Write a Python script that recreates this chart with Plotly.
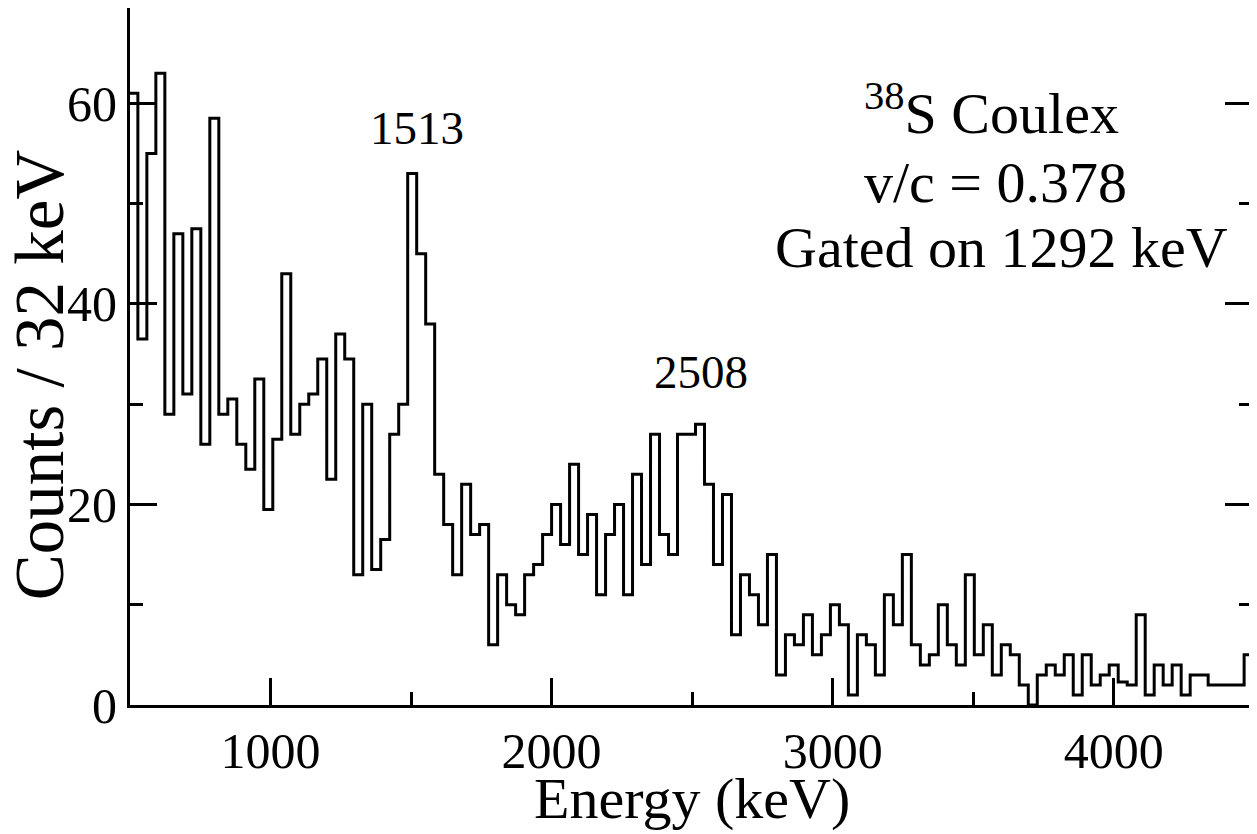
import plotly.graph_objects as go

# ---- data ----
bin_width = 32          # keV per bin
first_edge = 496        # keV, lower edge of first bin
counts = [
    61, 36.5, 55, 63, 29, 47, 31, 47.5, 26, 58.5,
    29, 30.5, 26, 23.5, 32.5, 19.5, 26.5, 43, 27, 30,
    31, 34.5, 22.5, 37, 34.5, 13, 30, 13.5, 16.5, 27,
    30, 53, 45, 38, 23, 18, 13, 22, 17, 18,
    6, 13, 10, 9, 13, 14, 17, 20, 16, 24,
    15, 19, 11, 17, 20, 11, 23, 14, 27, 17,
    15, 27, 27, 28, 22, 14, 21, 7, 13, 11,
    8, 15, 3, 7, 6, 9, 5, 7, 10, 8,
    1, 7, 6, 3, 11, 8, 15, 6, 4, 5,
    10, 6, 4, 13, 5, 8, 3, 6, 5, 2,
    0, 3, 4, 3, 5, 1, 5, 2, 3, 4,
    2.3, 2, 9, 1, 4, 2, 4, 1, 3, 3,
    2, 2, 2, 2, 5,
]
x_ticks = [1000, 2000, 3000, 4000]
y_ticks = [0, 20, 40, 60]
x_title = "Energy (keV)"
y_title = "Counts / 32 keV"
peak_labels = ["1513", "2508"]
peak_label_x = [1521, 2533]
peak_label_y = [57.5, 33.2]
info_lines = ["<sup>38</sup>S Coulex", "v/c = 0.378", "Gated on 1292 keV"]
info_x = [3565, 3580, 3600]
info_y = [59.4, 52.1, 45.6]

edges = [first_edge + bin_width * i for i in range(len(counts) + 1)]
xs = edges
ys = counts + [counts[-1]]

FONT = "Liberation Serif, Times New Roman, serif"

fig = go.Figure()
fig.add_trace(go.Scatter(
    x=xs, y=ys, mode="lines", line=dict(shape="hv", color="black", width=3),
    hoverinfo="skip", showlegend=False,
))

for t, x, y in zip(peak_labels, peak_label_x, peak_label_y):
    fig.add_annotation(x=x, y=y, text=t, showarrow=False,
                       font=dict(family=FONT, size=47, color="black"),
                       xanchor="center", yanchor="middle")

for t, x, y in zip(info_lines, info_x, info_y):
    fig.add_annotation(x=x, y=y, text=t, showarrow=False, align="center",
                       font=dict(family=FONT, size=58, color="black"),
                       xanchor="center", yanchor="middle")

# axis titles as paper-positioned annotations
fig.add_annotation(xref="paper", yref="paper", x=0.501, y=-0.134, text=x_title,
                   showarrow=False, xanchor="center", yanchor="middle",
                   font=dict(family=FONT, size=58, color="black"))
fig.add_annotation(xref="paper", yref="paper", x=-0.080, y=0.4735, text=y_title,
                   showarrow=False, xanchor="center", yanchor="middle", textangle=-90,
                   font=dict(family=FONT, size=69, color="black"))

fig.update_layout(
    width=1249, height=826,
    margin=dict(l=122, r=5, t=0, b=129, autoexpand=False),
    paper_bgcolor="white", plot_bgcolor="white",
    font=dict(family=FONT, color="black"),
)
fig.update_xaxes(
    range=[500, 4492], tickvals=x_ticks, ticktext=[str(v) for v in x_ticks],
    ticks="inside", ticklen=27, tickwidth=3, tickcolor="black",
    minor=dict(dtick=500, tick0=0, ticks="inside", ticklen=13, tickwidth=3, tickcolor="black"),
    showline=True, linewidth=3, linecolor="black", mirror=False,
    showgrid=False, zeroline=False, ticklabelstandoff=0, automargin=False,
    tickfont=dict(family=FONT, size=50),
)
fig.update_yaxes(
    range=[0, 69.5], tickvals=y_ticks, ticktext=[str(v) for v in y_ticks],
    ticks="inside", ticklen=27, tickwidth=3, tickcolor="black",
    minor=dict(dtick=10, tick0=0, ticks="inside", ticklen=13, tickwidth=3, tickcolor="black"),
    showline=True, linewidth=3, linecolor="black", mirror="ticks",
    showgrid=False, zeroline=False, automargin=False,
    tickfont=dict(family=FONT, size=50),
)

fig.write_html("out.html")
